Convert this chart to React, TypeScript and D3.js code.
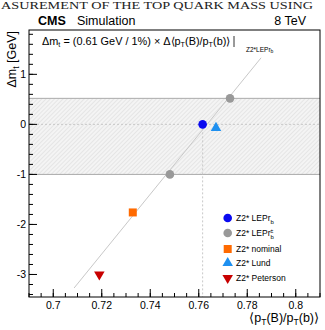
import React from "react";
import * as d3 from "d3";

const W = 325;
const H = 330;

const xDomain = [0.69, 0.81];
const yDomain = [-3.45, 1.886];
const xTicks = [0.7, 0.72, 0.74, 0.76, 0.78, 0.8];
const xTickLabels = ["0.7", "0.72", "0.74", "0.76", "0.78", "0.8"];
const yTicks = [-3, -2, -1, 0, 1];
const yTickLabels = ["-3", "-2", "-1", "0", "1"];

const legendNames = ["Z2* LEPr", "Z2* LEPr", "Z2* nominal", "Z2* Lund", "Z2* Peterson"];
const pointSeries = [0, 1, 1, 2, 3, 4];
const pointX = [0.7616, 0.7729, 0.7481, 0.7328, 0.7671, 0.719];
const pointY = [0, 0.52, -1.0, -1.76, -0.07, -3.0];

const fitX = [0.7086, 0.7857];
const fitY = [-3.27, 1.33];
const band = [-1.0, 0.52];
const refX = 0.7616;

const seriesColor = ["#0a0af0", "#999999", "#ff6a00", "#1e90f0", "#c80000"];
const seriesShape = ["circle", "circle", "square", "triUp", "triDown"];

const FONT = "'Liberation Sans', Arial, Helvetica, sans-serif";

function Marker({ shape, color, cx, cy }: { shape: string; color: string; cx: number; cy: number }) {
  if (shape === "circle") return <circle cx={cx} cy={cy} r={4.3} fill={color} />;
  if (shape === "square") return <rect x={cx - 4} y={cy - 4} width={8} height={8} fill={color} />;
  const sym = d3.symbol().type(d3.symbolTriangle).size(48)();
  const rot = shape === "triDown" ? 180 : 0;
  return <path d={sym || ""} fill={color} transform={`translate(${cx},${cy}) rotate(${rot})`} />;
}

export default function App() {
  const left = 29, right = 320, top = 30, bottom = 297;
  const x = d3.scaleLinear().domain(xDomain).range([left, right]);
  const y = d3.scaleLinear().domain(yDomain).range([bottom, top]);

  const xMinor = d3.range(0.69, 0.8101, 0.005).filter((v) => v >= xDomain[0] - 1e-9 && v <= xDomain[1] + 1e-9);
  const yMinor = d3.range(-3.4, 1.81, 0.2);

  const fitLine = d3.line<number>().x((_, i) => x(fitX[i])).y((_, i) => y(fitY[i]));

  const legX = 227.7;
  const legY = [218, 233, 249, 263, 278];

  return (
    <svg width={W} height={H} style={{ position: "absolute", left: 0, top: 0, background: "#fff" }} fontFamily={FONT}>
      <defs>
        <pattern id="hatch" patternUnits="userSpaceOnUse" width={3} height={3} patternTransform="rotate(45)">
          <rect width={3} height={3} fill="#f4f4f4" />
          <line x1={0} y1={0} x2={0} y2={3} stroke="#d0d0d0" strokeWidth={0.8} />
        </pattern>
      </defs>

      {/* cropped page header */}
      <text x={1} y={9} fontFamily="'Liberation Serif', 'Times New Roman', serif" fontSize={11} fill="#222" textLength={312} lengthAdjust="spacingAndGlyphs">
        ASUREMENT OF THE TOP QUARK MASS USING
      </text>

      {/* header */}
      <text x={38} y={24.5} fontSize={12.5} fontWeight="bold" fill="#000">CMS</text>
      <text x={77} y={24.5} fontSize={12.5} fill="#000">Simulation</text>
      <text x={306} y={24.5} fontSize={12.5} fill="#000" textAnchor="end">8 TeV</text>

      {/* band */}
      <rect x={left} y={y(band[1])} width={right - left} height={y(band[0]) - y(band[1])} fill="url(#hatch)" />
      <line x1={left} x2={right} y1={y(band[1])} y2={y(band[1])} stroke="#aaa" strokeWidth={1} />
      <line x1={left} x2={right} y1={y(band[0])} y2={y(band[0])} stroke="#aaa" strokeWidth={1} />

      {/* dotted reference lines */}
      <line x1={left} x2={right} y1={y(0)} y2={y(0)} stroke="#c8c8c8" strokeWidth={1} strokeDasharray="2,2" />
      <line x1={x(refX)} x2={x(refX)} y1={y(0)} y2={bottom} stroke="#c8c8c8" strokeWidth={1} strokeDasharray="2,2" />

      {/* fit line */}
      <path d={fitLine(fitX) || ""} stroke="#c8c8c8" strokeWidth={1} fill="none" />

      {/* points */}
      {pointX.map((px, i) => (
        <Marker key={i} shape={seriesShape[pointSeries[i]]} color={seriesColor[pointSeries[i]]} cx={x(px)} cy={y(pointY[i])} />
      ))}

      {/* frame */}
      <rect x={left} y={top} width={right - left} height={bottom - top} fill="none" stroke="#000" strokeWidth={1} />

      {/* x ticks */}
      {xMinor.map((v, i) => (
        <line key={"xm" + i} x1={x(v)} x2={x(v)} y1={bottom} y2={bottom - 4} stroke="#000" />
      ))}
      {xTicks.map((v, i) => (
        <g key={"xt" + i}>
          <line x1={x(v)} x2={x(v)} y1={bottom} y2={bottom - 8} stroke="#000" />
          <text x={x(v)} y={308.5} fontSize={10.5} textAnchor="middle" fill="#000">{xTickLabels[i]}</text>
        </g>
      ))}

      {/* y ticks */}
      {yMinor.map((v, i) => (
        <line key={"ym" + i} x1={left} x2={left + 4} y1={y(v)} y2={y(v)} stroke="#000" />
      ))}
      {yTicks.map((v, i) => (
        <g key={"yt" + i}>
          <line x1={left} x2={left + 8} y1={y(v)} y2={y(v)} stroke="#000" />
          <text x={26} y={y(v) + 3.8} fontSize={10.5} textAnchor="end" fill="#000">{yTickLabels[i]}</text>
        </g>
      ))}

      {/* axis titles */}
      <text transform="translate(16,31) rotate(-90)" fontSize={12.5} textAnchor="end" fill="#000">
        Δm<tspan fontSize={8.5} dy={3}>t</tspan><tspan dy={-3}> [GeV]</tspan>
      </text>
      <text x={319} y={322} fontSize={12.5} textAnchor="end" fill="#000">
        ⟨p<tspan fontSize={8.5} dy={3}>T</tspan><tspan dy={-3}>(B)/p</tspan><tspan fontSize={8.5} dy={3}>T</tspan><tspan dy={-3}>(b)⟩</tspan>
      </text>

      {/* annotation */}
      <text x={42} y={45} fontSize={10.9} fill="#000">
        Δm<tspan fontSize={7.2} dy={2}>t</tspan><tspan dy={-2}> = (0.61 GeV / 1%) × Δ⟨p</tspan><tspan fontSize={7.2} dy={2}>T</tspan><tspan dy={-2}>(B)/p</tspan><tspan fontSize={7.2} dy={2}>T</tspan><tspan dy={-2}>(b)⟩</tspan>
      </text>
      <line x1={234} x2={234} y1={36} y2={47} stroke="#000" strokeWidth={0.8} />
      <text x={246} y={51.5} fontSize={6.5} fill="#000">
        Z2*LEPr<tspan fontSize={5} dy={1.5}>b</tspan>
      </text>

      {/* legend */}
      {legendNames.map((name, i) => (
        <g key={"lg" + i}>
          <Marker shape={seriesShape[i]} color={seriesColor[i]} cx={legX} cy={legY[i]} />
          <text x={236} y={legY[i] + 3} fontSize={8.5} fill="#000">
            {name}
            {i === 0 && <tspan fontSize={6} dy={2.5}>b</tspan>}
            {i === 1 && (
              <>
                <tspan fontSize={6} dy={2.5}>b</tspan>
                <tspan fontSize={5.5} dx={-3.5} dy={-6}>±</tspan>
              </>
            )}
          </text>
        </g>
      ))}
    </svg>
  );
}
